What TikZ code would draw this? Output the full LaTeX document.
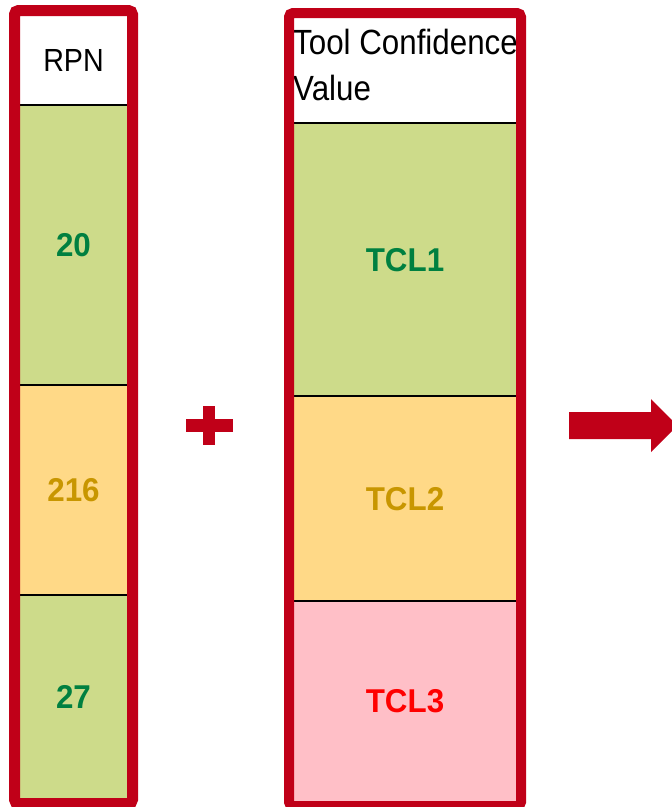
\documentclass[tikz,border=0pt]{standalone}
\usepackage{fontspec}
\setmainfont{Liberation Sans}
\newfontfamily\hdfont[FakeStretch=0.895]{Liberation Sans}
\newfontfamily\valfont[FakeStretch=0.95]{Liberation Sans}
\usetikzlibrary{calc,positioning,fit}
\definecolor{framered}{RGB}{192,0,24}
\definecolor{cellgreen}{RGB}{205,219,138}
\definecolor{cellyellow}{RGB}{255,217,135}
\definecolor{cellpink}{RGB}{255,191,199}
\definecolor{txtgreen}{RGB}{0,128,64}
\definecolor{txtyellow}{RGB}{200,150,0}
\definecolor{txtred}{RGB}{255,0,0}

\begin{document}
\begin{tikzpicture}[x=1pt, y=-1pt,
  cell/.style={rectangle, inner sep=0pt, outer sep=0pt, text depth=-4pt,
    font=\valfont\bfseries\fontsize{33}{38}\selectfont},
  rpncell/.style={cell, minimum width=107pt},
  tclcell/.style={cell, minimum width=222pt},
  hdtext/.style={inner sep=0pt, align=left, font=\hdfont\fontsize{35}{46}\selectfont},
  sepline/.style={line width=2pt, black},
  frame/.style={draw=framered, rounded corners=4pt}]
  \useasboundingbox (0,0) rectangle (672,807);
  \clip (0,0) rectangle (672,807);
  % column centres
  \def\xR{73.5}
  \def\xT{405}
  % RPN column
  \node[rpncell, minimum height=89pt, fill=white, text depth=0pt,
    font=\hdfont\fontsize{32}{38}\selectfont] (rpnhead) at (\xR,60.5) {RPN};
  \node[rpncell, minimum height=280pt, fill=cellgreen, text=txtgreen, below=0pt of rpnhead] (rpn1) {20};
  \node[rpncell, minimum height=210pt, fill=cellyellow, text=txtyellow, below=0pt of rpn1] (rpn2) {216};
  \node[rpncell, minimum height=203pt, fill=cellgreen, text=txtgreen, below=0pt of rpn2] (rpn3) {27};
  % tool confidence column
  \node[tclcell, minimum height=105pt, fill=white] (tcvhead) at (\xT,70.5) {};
  \node[hdtext, anchor=north west] (tcvtext) at ($(tcvhead.north west)+(-1,10.5)$)
    {Tool Confidence\\Value};
  \node[tclcell, minimum height=273pt, fill=cellgreen, text=txtgreen, below=0pt of tcvhead] (tcl1) {TCL1};
  \node[tclcell, minimum height=205pt, fill=cellyellow, text=txtyellow, below=0pt of tcl1] (tcl2) {TCL2};
  \node[tclcell, minimum height=200pt, fill=cellpink, text=txtred, below=0pt of tcl2] (tcl3) {TCL3};
  % separators
  \foreach \c in {rpnhead,rpn1,rpn2,tcvhead,tcl1,tcl2}
    \draw[sepline] (\c.south west) -- (\c.south east);
  % frames
  \node[frame, line width=11pt, inner sep=5.5pt, fit=(rpnhead)(rpn3)] (rpnframe) {};
  \node[frame, line width=10pt, inner sep=5pt, fit=(tcvhead)(tcl3)] (tclframe) {};
  % plus sign
  \fill[framered] (186,419) rectangle (233,432);
  \fill[framered] (203,406) rectangle (215,445);
  % arrow
  \fill[framered] (569,412) -- (651,412) -- (651,399) -- (677.5,425.5)
    -- (651,452) -- (651,439) -- (569,439) -- cycle;
\end{tikzpicture}
\end{document}
